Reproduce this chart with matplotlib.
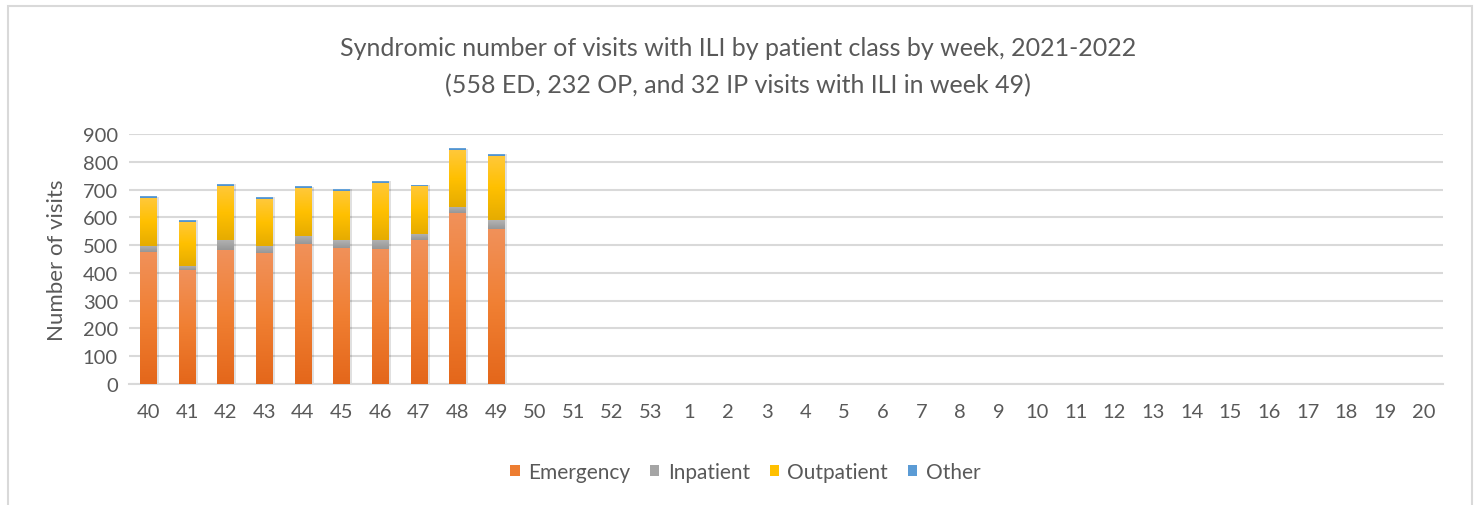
import numpy as np
import matplotlib.pyplot as plt
from matplotlib.patches import Rectangle
from matplotlib.colors import LinearSegmentedColormap

# weeks of the 2021-2022 season
weeks = [str(w) for w in range(40, 54)] + [str(w) for w in range(1, 21)]

# visits by patient class (only weeks 40-49 reported so far)
emergency = [476, 409, 481, 470, 504, 491, 485, 518, 614, 558]
inpatient = [22, 16, 37, 28, 29, 27, 33, 23, 23, 32]
outpatient = [172, 159, 195, 168, 171, 177, 206, 173, 205, 232]
other = [5, 6, 6, 6, 6, 6, 6, 2, 5, 6]

# name, values, legend colour, gradient (bottom -> top)
series = [
    ('Emergency', emergency, '#ED7D31', ['#E4671B', '#F07F32', '#F1915A']),
    ('Inpatient', inpatient, '#A5A5A5', ['#979797', '#A5A5A5', '#B3B3B3']),
    ('Outpatient', outpatient, '#FFC000', ['#E6AC00', '#FFC000', '#FFC83A']),
    ('Other', other, '#5B9BD5', ['#4A8BC8', '#5B9BD5', '#72AADD']),
]

plt.rcParams['font.family'] = ['Lato', 'DejaVu Sans']
txt = '#595959'

fig = plt.figure(figsize=(14.76, 5.06), dpi=100)
ax = fig.add_axes([0.0874, 0.2391, 0.8902, 0.4941])

# chart border
fig.patches.append(Rectangle((0.0055, -0.05), 0.9915, 1.037, transform=fig.transFigure,
                             fill=False, edgecolor='#D9D9D9', linewidth=1.5))

x = np.arange(len(weeks))
n = len(emergency)
width = 0.42
grad = np.linspace(0, 1, 64).reshape(-1, 1)

# soft shadow behind each stack
totals = np.sum([s[1] for s in series], axis=0)
ax.bar(x[:n] + 0.04, totals + 4, width=width + 0.06, bottom=-4, color='#000000',
       alpha=0.12, zorder=2, linewidth=0)

bottom = np.zeros(n)
for name, vals, col, stops in series:
    bars = ax.bar(x[:n], vals, width=width, bottom=bottom, color=col, label=name,
                  zorder=3, linewidth=0)
    cmap = LinearSegmentedColormap.from_list(name, stops)
    for b in bars:
        x0, y0 = b.get_x(), b.get_y()
        ax.imshow(grad, extent=[x0, x0 + b.get_width(), y0, y0 + b.get_height()],
                  origin='lower', cmap=cmap, aspect='auto', zorder=3.5,
                  interpolation='bilinear')
    bottom += np.array(vals)

ax.set_xlim(-0.5, len(weeks) - 0.5)
ax.set_ylim(0, 900)
ax.set_yticks(range(0, 901, 100))
ax.set_xticks(x)
ax.set_xticklabels(weeks)
ax.grid(axis='y', color='#D9D9D9', linewidth=1.5, zorder=0)
for s in ['top', 'right', 'left']:
    ax.spines[s].set_visible(False)
ax.spines['bottom'].set_color('#D9D9D9')
ax.spines['bottom'].set_linewidth(1.5)
ax.tick_params(length=0, labelsize=14.5, colors=txt, pad=8)
ax.tick_params(axis='x', pad=14)

ax.set_ylabel('Number of visits', fontsize=16, color=txt, labelpad=11)

fig.text(0.5, 0.905, 'Syndromic number of visits with ILI by patient class by week, 2021-2022',
         ha='center', va='center', fontsize=18, color=txt)
fig.text(0.5, 0.830, '(558 ED, 232 OP, and 32 IP visits with ILI in week 49)',
         ha='center', va='center', fontsize=18, color=txt)

leg = fig.legend(loc='center', bbox_to_anchor=(0.505, 0.065), ncol=4, frameon=False,
                 fontsize=15, handlelength=0.45, handleheight=0.45, handletextpad=0.4,
                 columnspacing=0.95)
for t in leg.get_texts():
    t.set_color(txt)

fig.savefig('out.png', dpi=100)
